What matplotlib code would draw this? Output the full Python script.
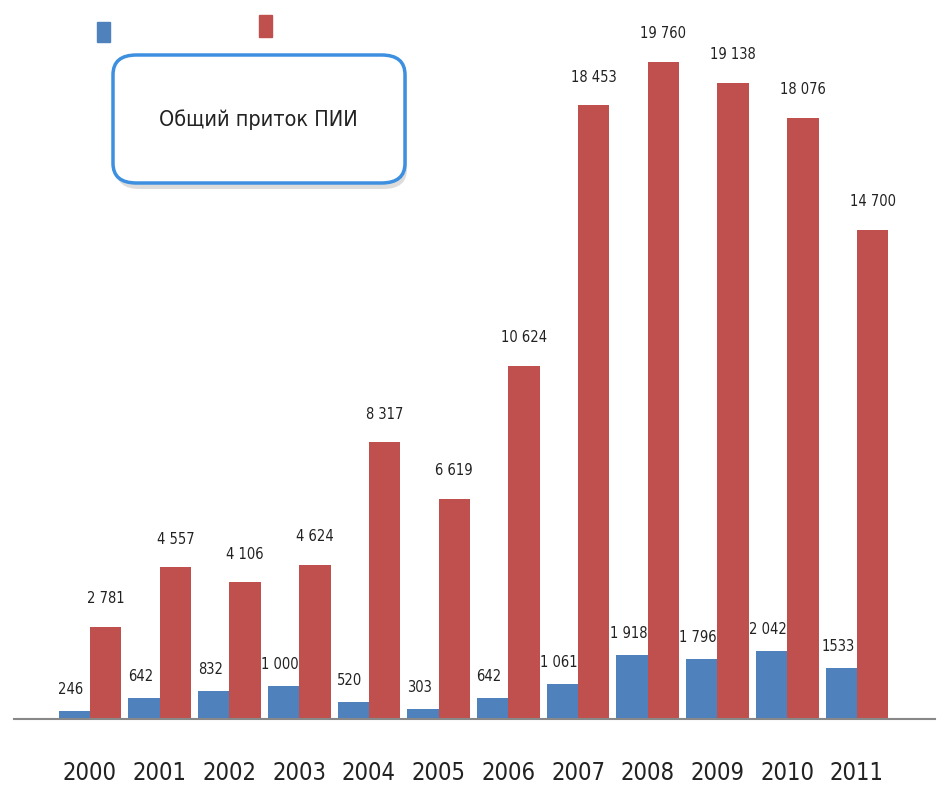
import matplotlib
matplotlib.use("Agg")
import matplotlib.pyplot as plt
from matplotlib.patches import Rectangle, FancyBboxPatch
import numpy as np

years = ["2000", "2001", "2002", "2003", "2004", "2005",
         "2006", "2007", "2008", "2009", "2010", "2011"]
blue_vals = [246, 642, 832, 1000, 520, 303, 642, 1061, 1918, 1796, 2042, 1533]
red_vals = [2781, 4557, 4106, 4624, 8317, 6619, 10624, 18453, 19760, 19138, 18076, 14700]
blue_labels = ["246", "642", "832", "1 000", "520", "303", "642", "1 061",
               "1 918", "1 796", "2 042", "1533"]
red_labels = ["2 781", "4 557", "4 106", "4 624", "8 317", "6 619", "10 624",
              "18 453", "19 760", "19 138", "18 076", "14 700"]
title_text = "Общий приток ПИИ"

BLUE = "#4F81BD"
RED = "#C0504D"
W, H = 938, 786

plt.rcParams['font.family'] = ['DejaVu Sans']
plt.rcParams['font.stretch'] = 'condensed'

fig = plt.figure(figsize=(W / 100, H / 100), dpi=100)
ax = fig.add_axes([14 / W, 67 / H, (935 - 14) / W, 1 - 67 / H])

x = np.arange(len(years))
bw = 0.45
bb = ax.bar(x - bw / 2, blue_vals, bw, color=BLUE)
rb = ax.bar(x + bw / 2, red_vals, bw, color=RED)

for rect, lab in zip(bb, blue_labels):
    ax.annotate(lab, (rect.get_x() + rect.get_width() / 2 - 0.05, rect.get_height()),
                xytext=(0, 10), textcoords="offset points",
                ha="center", va="bottom", fontsize=10.5, color="#222222",
                fontstretch="condensed")
for rect, lab in zip(rb, red_labels):
    ax.annotate(lab, (rect.get_x() + rect.get_width() / 2, rect.get_height()),
                xytext=(0, 15), textcoords="offset points",
                ha="center", va="bottom", fontsize=10.5, color="#222222",
                fontstretch="condensed")

ax.set_xlim(-1.09, 12.12)
ax.set_ylim(0, 21624)
ax.set_xticks(x)
ax.set_xticklabels(years, fontsize=17, color="#222222", fontstretch="condensed")
ax.tick_params(axis="x", length=0, pad=30)
ax.set_yticks([])
for s in ["top", "right", "left"]:
    ax.spines[s].set_visible(False)
ax.spines["bottom"].set_color("#888888")
ax.spines["bottom"].set_linewidth(1.5)

# legend markers (no text in the original)
fig.add_artist(Rectangle((97 / W, 1 - 42 / H), 13 / W, 20 / H,
                         transform=fig.transFigure, color=BLUE))
fig.add_artist(Rectangle((259 / W, 1 - 37 / H), 13 / W, 22 / H,
                         transform=fig.transFigure, color=RED))

# title callout box with shadow
shadow = FancyBboxPatch((116 / W, 1 - 189 / H), 291 / W, 128 / H,
                        boxstyle="round,pad=0,rounding_size=0.025",
                        transform=fig.transFigure, facecolor="#bbbbbb",
                        edgecolor="none", alpha=0.5)
fig.add_artist(shadow)
box = FancyBboxPatch((113 / W, 1 - 183 / H), 292 / W, 128 / H,
                     boxstyle="round,pad=0,rounding_size=0.025",
                     transform=fig.transFigure, facecolor="white",
                     edgecolor="#3d8fe0", linewidth=2.5)
fig.add_artist(box)
fig.text(258 / W, 1 - 120 / H, title_text, ha="center", va="center",
         fontsize=15.5, color="#222222", fontstretch="condensed")

fig.savefig("out.png", dpi=100)
